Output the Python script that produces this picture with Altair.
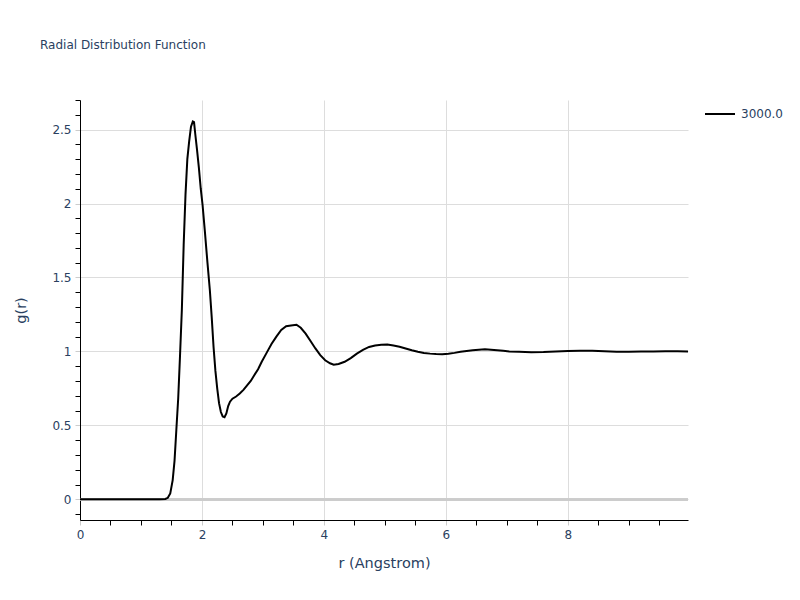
import altair as alt
import pandas as pd

# Radial distribution function
r = [0.0, 0.5, 1.0, 1.3, 1.40, 1.44, 1.48, 1.52, 1.55, 1.58, 1.61, 1.64, 1.67, 1.70,
     1.73, 1.76, 1.79, 1.82, 1.85, 1.87, 1.89, 1.92, 1.95, 1.98, 2.01, 2.05, 2.09,
     2.13, 2.16, 2.19, 2.22, 2.25, 2.28, 2.31, 2.34, 2.37, 2.40, 2.43, 2.46, 2.50,
     2.56, 2.62, 2.68, 2.74, 2.80, 2.86, 2.92, 2.98, 3.06, 3.14, 3.22, 3.30, 3.38,
     3.46, 3.55, 3.62, 3.70, 3.78, 3.86, 3.94, 4.02, 4.10, 4.16, 4.24, 4.34, 4.44,
     4.54, 4.64, 4.74, 4.84, 4.94, 5.04, 5.14, 5.24, 5.34, 5.44, 5.54, 5.64, 5.74,
     5.84, 5.94, 6.04, 6.14, 6.24, 6.34, 6.44, 6.54, 6.64, 6.74, 6.84, 6.94, 7.04,
     7.2, 7.4, 7.6, 7.8, 8.0, 8.2, 8.4, 8.6, 8.8, 9.0, 9.2, 9.4, 9.6, 9.8, 9.97]
g = [0.0, 0.0, 0.0, 0.0, 0.002, 0.01, 0.04, 0.13, 0.26, 0.47, 0.68, 0.97, 1.28, 1.72,
     2.06, 2.30, 2.42, 2.52, 2.555, 2.55, 2.47, 2.36, 2.24, 2.10, 1.99, 1.80, 1.60,
     1.41, 1.23, 1.03, 0.87, 0.75, 0.65, 0.59, 0.56, 0.555, 0.58, 0.63, 0.66, 0.68,
     0.695, 0.715, 0.74, 0.77, 0.80, 0.84, 0.88, 0.93, 0.99, 1.05, 1.10, 1.145, 1.17,
     1.175, 1.18, 1.16, 1.12, 1.07, 1.02, 0.975, 0.94, 0.92, 0.91, 0.915, 0.93, 0.955,
     0.985, 1.01, 1.03, 1.04, 1.045, 1.047, 1.04, 1.032, 1.02, 1.008, 0.998, 0.99, 0.985,
     0.982, 0.981, 0.984, 0.99, 0.997, 1.003, 1.008, 1.012, 1.014, 1.012, 1.008, 1.004, 1.0,
     0.997, 0.995, 0.996, 0.999, 1.002, 1.005, 1.004, 1.001, 0.998, 0.998, 0.999, 1.0,
     1.001, 1.001, 1.0]
series_name = "3000.0"

x_tick_values = [round(0.5 * i, 1) for i in range(0, 20)]
y_tick_values = [round(0.1 * i, 1) for i in range(-1, 28)]

df = pd.DataFrame({"r": r, "g": g, "series": series_name})

FONT = "DejaVu Sans"
TXT = "#2a3f5f"

x_major = "abs(datum.value / 2 - round(datum.value / 2)) < 1e-6"
y_major = "abs(datum.value * 2 - round(datum.value * 2)) < 1e-6"

x_axis = alt.Axis(
    values=x_tick_values,
    labelExpr=f"{x_major} ? datum.label : ''",
    format="~g",
    labelOverlap=False,
    labelFlush=False,
    grid=True,
    gridColor="#dddddd",
    gridOpacity={"condition": {"test": x_major, "value": 1}, "value": 0},
    tickColor={"condition": {"test": x_major, "value": "#cccccc"}, "value": "#000000"},
    tickSize=5,
    domainColor="#000000",
    labelColor=TXT,
    labelFontSize=12,
    labelFont=FONT,
    labelPadding=4,
    title="r (Angstrom)",
    titleColor=TXT,
    titleFont=FONT,
    titleFontSize=14.5,
    titleFontWeight="normal",
    titlePadding=16,
)

y_axis = alt.Axis(
    values=y_tick_values,
    labelExpr=f"{y_major} ? datum.label : ''",
    format="~g",
    labelOverlap=False,
    grid=True,
    gridColor="#dddddd",
    gridOpacity={"condition": {"test": y_major, "value": 1}, "value": 0},
    tickColor={"condition": {"test": y_major, "value": "#cccccc"}, "value": "#000000"},
    tickSize=5,
    domainColor="#000000",
    labelColor=TXT,
    labelFontSize=12,
    labelFont=FONT,
    labelPadding=4,
    title="g(r)",
    titleColor=TXT,
    titleFont=FONT,
    titleFontSize=14.5,
    titleFontWeight="normal",
    titlePadding=23,
)

xs = alt.Scale(domain=[0, 9.97], nice=False, zero=False)
ys = alt.Scale(domain=[-0.14, 2.7], nice=False, zero=False)

zero_line = alt.Chart(df).mark_rule(color="#cccccc", strokeWidth=2).encode(
    y=alt.datum(0, scale=ys, axis=y_axis)
)

line = alt.Chart(df).mark_line(strokeWidth=2, clip=True).encode(
    x=alt.X("r:Q", scale=xs, axis=x_axis),
    y=alt.Y("g:Q", scale=ys, axis=y_axis),
    color=alt.Color(
        "series:N",
        scale=alt.Scale(range=["#000000"]),
        legend=alt.Legend(
            title=None,
            orient="none",
            legendX=624,
            legendY=-2,
            symbolType="stroke",
            symbolSize=900,
            symbolStrokeWidth=2,
            labelFontSize=12,
            labelFont=FONT,
            labelColor=TXT,
            labelOffset=5,
        ),
    ),
)

chart = (
    alt.layer(zero_line, line)
    .properties(
        width=608,
        height=420,
        title=alt.TitleParams(
            "Radial Distribution Function",
            anchor="start",
            frame="group",
            dx=-40,
            offset=42,
            fontSize=12,
            font=FONT,
            fontWeight="normal",
            color=TXT,
        ),
        autosize=alt.AutoSizeParams(type="none"),
        padding={"left": 72, "top": 92, "right": 104, "bottom": 72},
    )
    .configure_view(stroke=None)
)

chart.save("out.html", embed_options={"renderer": "svg", "actions": False})
